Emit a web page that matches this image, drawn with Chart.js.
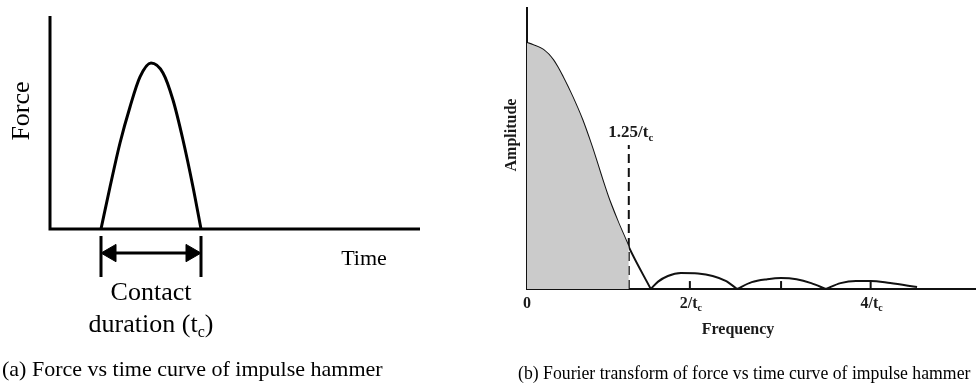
<!DOCTYPE html>
<html>
<head>
<meta charset="utf-8">
<script src="https://cdn.jsdelivr.net/npm/chart.js@4.4.1/dist/chart.umd.min.js"></script>
<style>
  body { margin: 0; background: #fff; }
  #page { position: relative; width: 976px; height: 387px; overflow: hidden; }
  .box { position: absolute; top: 0; height: 387px; }
  .caption { position: absolute; font-family: "Liberation Serif", serif; color: #000; white-space: nowrap; line-height: 1; transform-origin: left center; }
</style>
</head>
<body>
<div id="page">
  <div class="box" style="left:0;width:480px"><canvas id="force"></canvas></div>
  <div class="box" style="left:480px;width:496px"><canvas id="fourier"></canvas></div>
  <div class="caption" id="capA" style="left:2px;top:358px;font-size:22px">(a) Force vs time curve of impulse hammer</div>
  <div class="caption" id="capB" style="left:518px;top:363px;font-size:19px;transform:scaleX(0.932)">(b) Fourier transform of force vs time curve of impulse hammer</div>
</div>
<script>
// (a) impulse: time in units of 100px from the axis, force normalised to the peak
const timeVals = [0.51, 0.60, 0.70, 0.80, 0.90, 1.01, 1.13, 1.23, 1.33, 1.43, 1.51];
const forceVals = [0, 0.253, 0.518, 0.735, 0.916, 1.0, 0.94, 0.777, 0.536, 0.253, 0];
const timeMax = 3.7;
const forceMax = 1.283;
const forceMin = -0.5;
const contactStart = 0.51;
const contactEnd = 1.51;

// (b) spectrum: frequency in units of 1/tc, amplitude normalised
const freqVals = [0, 0.07, 0.20, 0.32, 0.44, 0.56, 0.68, 0.79, 1.01, 1.25, 1.52,
                  1.61, 1.73, 1.89, 2.10, 2.28, 2.44, 2.58,
                  2.76, 2.95, 3.12, 3.31, 3.49, 3.67,
                  3.85, 4.04, 4.22, 4.46, 4.79];
const ampVals = [1.0, 0.992, 0.972, 0.931, 0.862, 0.780, 0.687, 0.585, 0.362, 0.171, 0,
                 0.03, 0.053, 0.065, 0.063, 0.053, 0.033, 0,
                 0.028, 0.04, 0.045, 0.04, 0.024, 0,
                 0.024, 0.033, 0.033, 0.024, 0.008];
const freqMax = 5.44;
const ampMax = 1.146;
const cutoffFreq = 1.25;
const cutoffAmp = 0.585;
const tickPos = [0, 1, 2, 3.12, 4.22];
const tickText = ['0', '', '2/t_c', '', '4/t_c'];

// draw text with "_c" subscripts, centred on x
function richText(ctx, str, x, y, size, weight) {
    const parts = str.split(/_(\w)/);
    const main = `${weight} ${size}px "Liberation Serif", serif`;
    const sub = `${weight} ${Math.round(size * 0.62)}px "Liberation Serif", serif`;
    let w = 0;
    parts.forEach((p, i) => {
        ctx.font = i % 2 ? sub : main;
        w += ctx.measureText(p).width;
    });
    let cx = x - w / 2;
    ctx.textAlign = 'left';
    ctx.textBaseline = 'middle';
    parts.forEach((p, i) => {
        ctx.font = i % 2 ? sub : main;
        ctx.fillText(p, cx, i % 2 ? y + size * 0.3 : y);
        cx += ctx.measureText(p).width;
    });
}

const forceText = {
    id: 'forceText',
    afterDraw(chart) {
        const ctx = chart.ctx;
        const xs = chart.scales.x;
        const ys = chart.scales.y;
        const base = ys.getPixelForValue(0);
        ctx.save();
        ctx.fillStyle = '#000';
        ctx.save();
        ctx.translate(22, 111);
        ctx.rotate(-Math.PI / 2);
        richText(ctx, 'Force', 0, 0, 26, 'normal');
        ctx.restore();
        richText(ctx, 'Time', 364, base + 30, 22, 'normal');
        const mid = xs.getPixelForValue((contactStart + contactEnd) / 2);
        richText(ctx, 'Contact', mid, base + 64, 26, 'normal');
        richText(ctx, 'duration (t_c)', mid, base + 96, 26, 'normal');
        ctx.restore();
    }
};

const arrowY = -0.145;
new Chart(document.getElementById('force'), {
    type: 'line',
    data: {
        datasets: [
            {
                data: [{x: 0, y: forceMax}, {x: 0, y: 0}, {x: timeMax, y: 0}],
                borderColor: '#000', borderWidth: 3, borderJoinStyle: 'miter'
            },
            {
                data: timeVals.map((t, i) => ({x: t, y: forceVals[i]})),
                borderColor: '#000', borderWidth: 3, cubicInterpolationMode: 'monotone'
            },
            {
                data: [{x: contactStart, y: -0.042}, {x: contactStart, y: -0.289}],
                borderColor: '#000', borderWidth: 3
            },
            {
                data: [{x: contactEnd, y: -0.042}, {x: contactEnd, y: -0.289}],
                borderColor: '#000', borderWidth: 3
            },
            {
                data: [{x: contactStart + 0.05, y: arrowY}, {x: contactEnd - 0.05, y: arrowY}],
                borderColor: '#000', borderWidth: 3
            },
            {
                data: [{x: contactStart + 0.1, y: arrowY}],
                showLine: false, pointStyle: 'triangle', pointRadius: 10, pointRotation: -90,
                pointBackgroundColor: '#000', pointBorderColor: '#000', pointBorderWidth: 1
            },
            {
                data: [{x: contactEnd - 0.1, y: arrowY}],
                showLine: false, pointStyle: 'triangle', pointRadius: 10, pointRotation: 90,
                pointBackgroundColor: '#000', pointBorderColor: '#000', pointBorderWidth: 1
            }
        ]
    },
    options: {
        responsive: true,
        maintainAspectRatio: false,
        animation: false,
        layout: {padding: {left: 50, top: 16, right: 60, bottom: 75}},
        elements: {point: {radius: 0}, line: {fill: false}},
        datasets: {line: {clip: false}},
        plugins: {legend: {display: false}, tooltip: {enabled: false}},
        scales: {
            x: {type: 'linear', min: 0, max: timeMax, display: false},
            y: {min: forceMin, max: forceMax, display: false}
        }
    },
    plugins: [forceText]
});

const fourierText = {
    id: 'fourierText',
    afterDraw(chart) {
        const ctx = chart.ctx;
        const xs = chart.scales.x;
        const ys = chart.scales.y;
        const a = chart.chartArea;
        ctx.save();
        ctx.fillStyle = '#1a1a1a';
        ctx.save();
        ctx.translate(32, 135);
        ctx.rotate(-Math.PI / 2);
        richText(ctx, 'Amplitude', 0, 0, 16, 'bold');
        ctx.restore();
        richText(ctx, '1.25/t_c', xs.getPixelForValue(cutoffFreq) + 2, ys.getPixelForValue(cutoffAmp) - 12, 17, 'bold');
        tickPos.forEach((p, i) => {
            if (tickText[i]) richText(ctx, tickText[i], xs.getPixelForValue(p) + (i ? 1 : 0), a.bottom + 15, 16, 'bold');
        });
        richText(ctx, 'Frequency', 258, a.bottom + 41, 16, 'bold');
        ctx.restore();
    }
};

// split the spectrum at its zeros so each lobe meets the axis in a cusp
const lobes = [];
let cur = [];
freqVals.forEach((f, i) => {
    cur.push({x: f, y: ampVals[i]});
    if (ampVals[i] === 0 && cur.length > 1) {
        lobes.push(cur);
        cur = [{x: f, y: 0}];
    }
});
if (cur.length > 1) lobes.push(cur);

const shaded = [];
freqVals.forEach((f, i) => { if (f <= cutoffFreq) shaded.push({x: f, y: ampVals[i]}); });

new Chart(document.getElementById('fourier'), {
    type: 'line',
    data: {
        datasets: [
            {
                data: shaded, borderWidth: 0, borderColor: 'rgba(0,0,0,0)',
                backgroundColor: '#cbcbcb', fill: 'origin', cubicInterpolationMode: 'monotone'
            },
            ...lobes.map(l => ({
                data: l, borderColor: '#111', borderWidth: 2, cubicInterpolationMode: 'monotone'
            })),
            {
                // axis line runs on to the page edge
                data: [{x: 0, y: ampMax}, {x: 0, y: 0}, {x: freqMax * 1.02, y: 0}],
                borderColor: '#111', borderWidth: 2, borderJoinStyle: 'miter'
            },
            {
                data: [{x: cutoffFreq, y: 0}, {x: cutoffFreq, y: cutoffAmp}],
                borderColor: '#111', borderWidth: 2, borderDash: [9, 5]
            },
            {
                data: tickPos.slice(1).map(p => ({x: p, y: 0.016})),
                showLine: false, pointStyle: 'line', pointRadius: 4, pointRotation: 90,
                pointBorderColor: '#111', pointBorderWidth: 2
            }
        ]
    },
    options: {
        responsive: true,
        maintainAspectRatio: false,
        animation: false,
        layout: {padding: {left: 47, top: 7, right: 0, bottom: 98}},
        elements: {point: {radius: 0}},
        datasets: {line: {clip: false}},
        plugins: {legend: {display: false}, tooltip: {enabled: false}, filler: {propagate: false}},
        scales: {
            x: {type: 'linear', min: 0, max: freqMax, display: false},
            y: {min: 0, max: ampMax, display: false}
        }
    },
    plugins: [fourierText]
});
</script>
</body>
</html>
